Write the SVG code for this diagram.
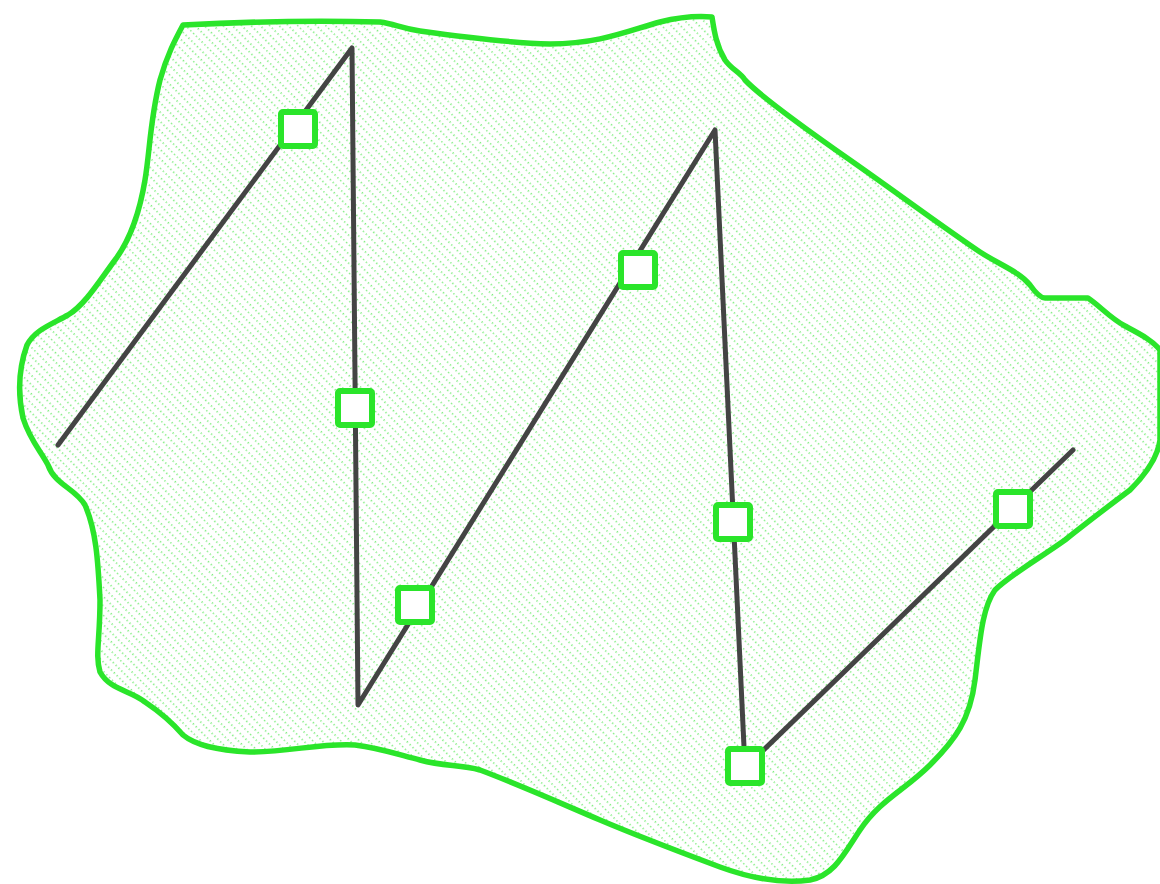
<svg xmlns="http://www.w3.org/2000/svg" width="1160" height="884" viewBox="0 0 1160 884">
<style>
.region{stroke:#2ae52a;stroke-width:5.5;fill:url(#hatch);stroke-linejoin:round}
.wire{stroke:#444;stroke-width:5;fill:none;stroke-linecap:round;stroke-linejoin:round}
.node{fill:#fff;stroke:#2ae52a;stroke-width:6}
</style>
<defs>
<pattern id="hatch" patternUnits="userSpaceOnUse" width="6.6" height="8" patternTransform="rotate(-45)">
<rect width="6.6" height="8" fill="#fff"/>
<line x1="1" y1="0" x2="1" y2="8" stroke="#4be64b" stroke-width="1.2" stroke-dasharray="1.3 2.7"/>
</pattern>
</defs>
<g id="region">
<path class="region" d="M183,25 C240,22 300,20 380,22 C395,24 400,28 420,31 C470,38 510,43 550,44 C600,44 630,30 660,22 C680,17 700,16 712,17 C714,30 716,45 725,60 C732,70 740,72 745,80 C760,96 800,125 850,160 C900,195 940,225 980,252 C1000,265 1020,272 1030,285 C1035,292 1040,298 1045,298 L1088,298 C1100,306 1110,318 1125,326 C1140,334 1152,340 1160,350 L1160,440 C1158,455 1150,470 1130,490 C1110,505 1090,520 1065,540 C1040,558 1010,575 995,590 C982,608 980,640 975,680 C970,720 955,740 930,765 C905,790 880,800 860,830 C845,852 835,875 810,880 C780,884 750,878 720,867 C680,852 640,837 600,820 C560,803 520,785 480,770 C460,764 445,767 420,760 C400,755 380,748 355,745 C320,743 290,752 250,752 C215,750 195,745 183,735 C170,720 160,712 145,702 C130,690 110,690 100,672 C95,655 100,640 100,600 C98,560 96,530 85,505 C75,488 55,485 48,465 C40,450 30,440 23,418 C18,395 18,370 27,345 C35,330 50,325 68,315 C85,305 100,280 115,260 C130,240 140,210 145,180 C150,150 150,120 160,80 C167,55 175,40 183,25 Z"/>
</g>
<g id="connectors">
<path class="wire" d="M58,445 L352,48 L358,705 L715,130 L745,768 L1073,450"/>
</g>
<g id="n1"><rect class="node" x="281" y="112" width="34" height="34" rx="2"/></g>
<g id="n2"><rect class="node" x="338" y="391" width="34" height="34" rx="2"/></g>
<g id="n3"><rect class="node" x="398" y="588" width="34" height="34" rx="2"/></g>
<g id="n4"><rect class="node" x="621" y="253" width="34" height="34" rx="2"/></g>
<g id="n5"><rect class="node" x="716" y="505" width="34" height="34" rx="2"/></g>
<g id="n6"><rect class="node" x="996" y="492" width="34" height="34" rx="2"/></g>
<g id="n7"><rect class="node" x="728" y="749" width="34" height="34" rx="2"/></g>
</svg>
